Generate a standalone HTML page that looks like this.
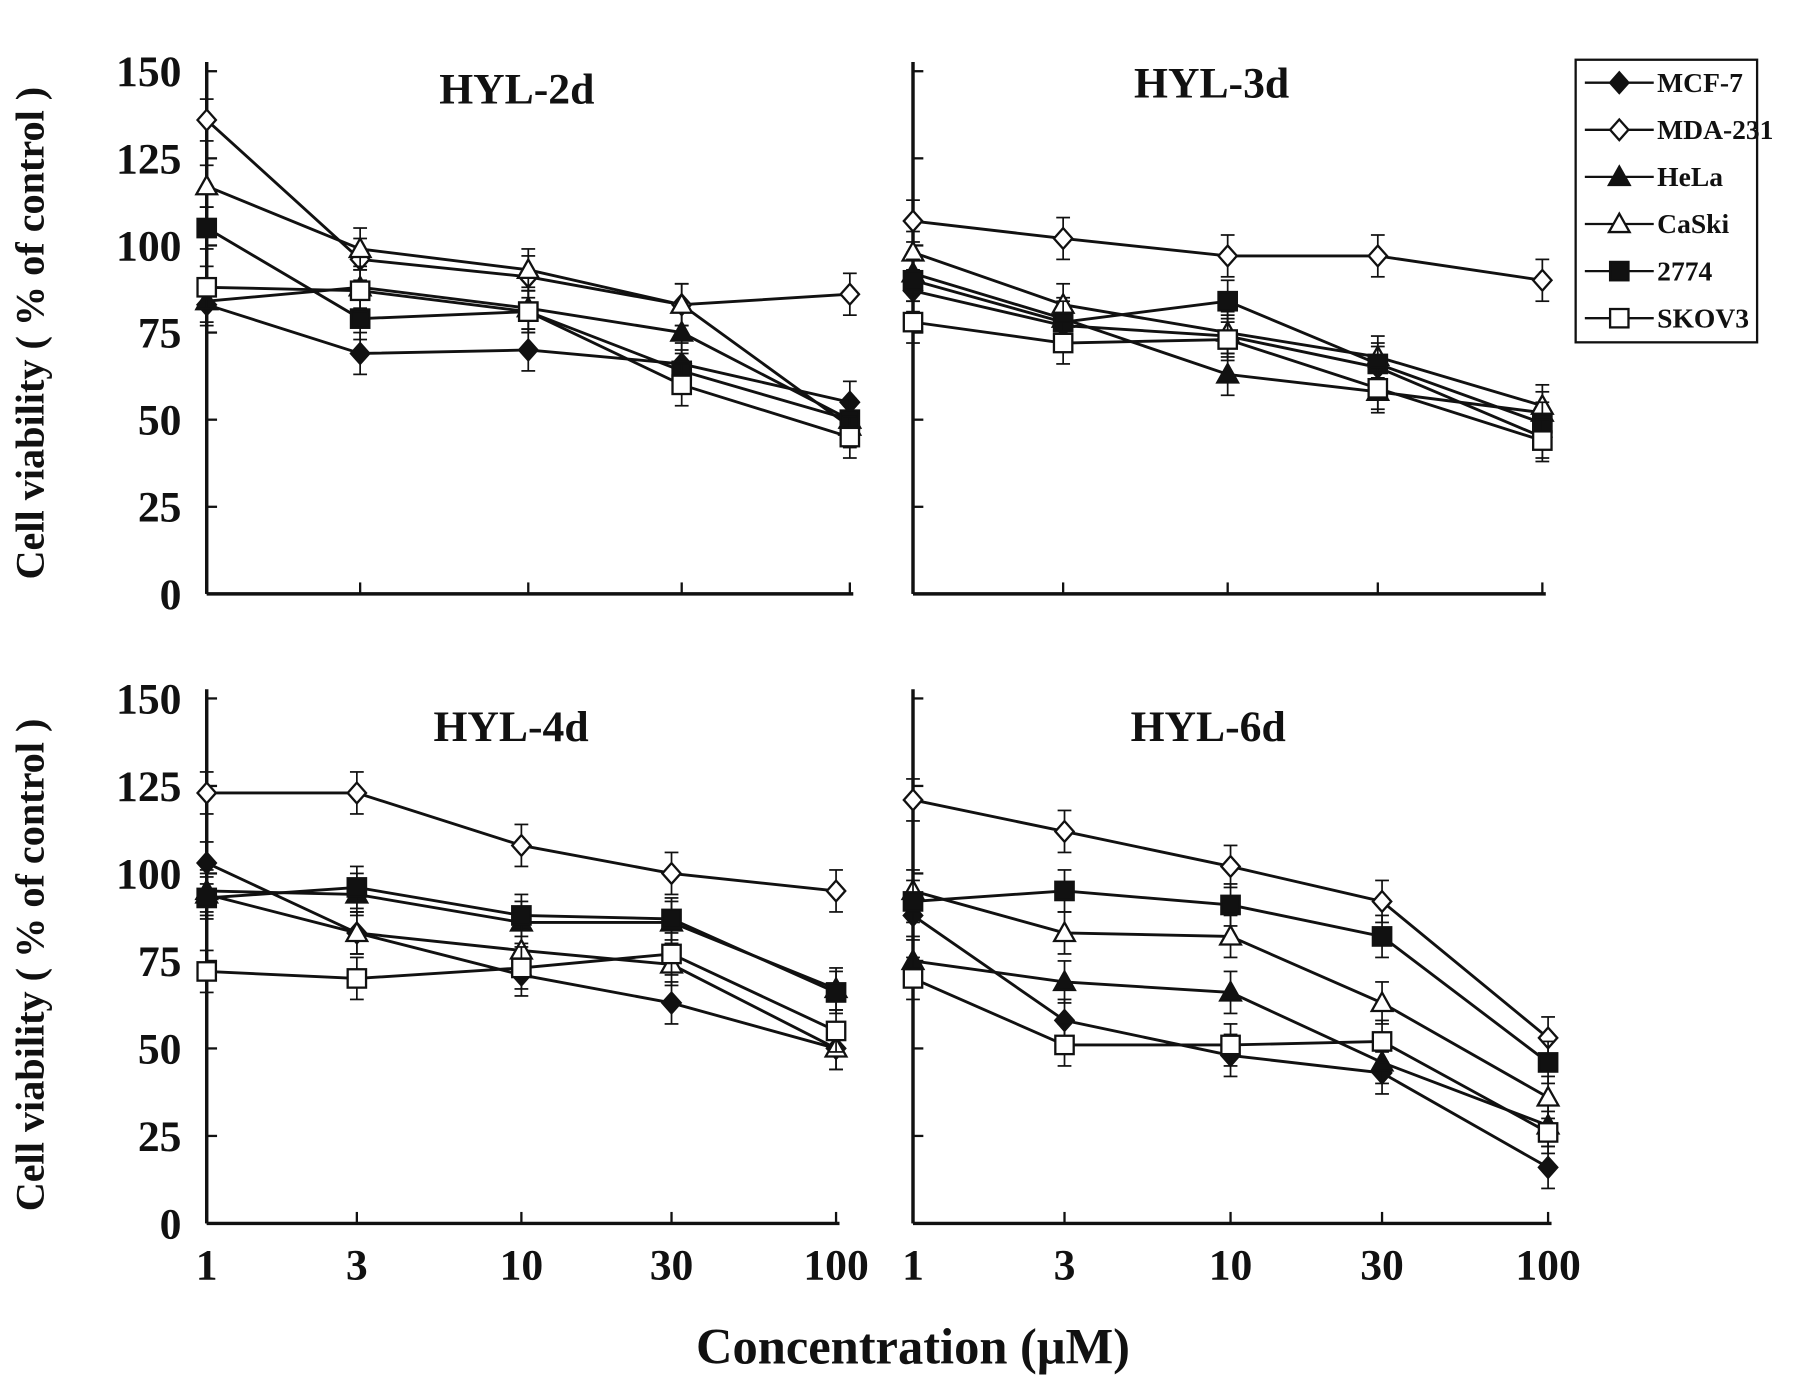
<!DOCTYPE html>
<html><head><meta charset="utf-8"><style>
html,body{margin:0;padding:0;background:#fff}
svg{display:block}
text{font-family:"Liberation Serif",serif;font-weight:bold;fill:#111}
</style></head><body>
<svg id="chart" width="1795" height="1390" viewBox="0 0 1563 1210" preserveAspectRatio="none" xmlns="http://www.w3.org/2000/svg">
<text x="795" y="1187" font-size="44" text-anchor="middle">Concentration (μM)</text>
<text transform="translate(38,290) rotate(-90)" font-size="35" text-anchor="middle">Cell viability ( % of control )</text>
<text transform="translate(38,840) rotate(-90)" font-size="35" text-anchor="middle">Cell viability ( % of control )</text>
<g id="plots"></g>
<g id="legend"></g>
</svg>
<script>
const concentrations=[1,3,10,30,100];
const xTickLabels=["1","3","10","30","100"];
const yTicks=[0,25,50,75,100,125,150];
const seriesNames=["MCF-7","MDA-231","HeLa","CaSki","2774","SKOV3"];
const panelTitles=["HYL-2d","HYL-3d","HYL-4d","HYL-6d"];
const hyl2d=[[83,69,70,66,55],[136,96,91,83,86],[84,88,82,75,50],[117,99,93,83,48],[105,79,81,64,50],[88,87,81,60,45]];
const hyl3d=[[87,77,74,65,45],[107,102,97,97,90],[92,79,63,58,52],[98,83,75,68,54],[90,78,84,66,49],[78,72,73,59,44]];
const hyl4d=[[103,83,71,63,50],[123,123,108,100,95],[95,94,86,86,67],[94,83,78,74,50],[93,96,88,87,66],[72,70,73,77,55]];
const hyl6d=[[88,58,48,43,16],[121,112,102,92,53],[75,69,66,46,28],[95,83,82,63,36],[92,95,91,82,46],[70,51,51,52,26]];
const errors=[6,6,6,6,6];
const panelData=[hyl2d,hyl3d,hyl4d,hyl6d];
const NS="http://www.w3.org/2000/svg";
const panels=[{x0:180,x1:740,y0:517,y1:62,lab:false,ty:90,tx:450},{x0:795,x1:1343,y0:517,y1:62,lab:false,ty:85,tx:1055},{x0:180,x1:728,y0:1065,y1:608,lab:true,ty:645,tx:445},{x0:795,x1:1348,y0:1065,y1:608,lab:true,ty:645,tx:1052}];
function el(t,a,p){const e=document.createElementNS(NS,t);for(const k in a)e.setAttribute(k,a[k]);p.appendChild(e);return e;}
function marker(g,i,cx,cy){const s=8;const fill=(i%2===0)?"#111":"#fff";let m;
 if(i<2)m=el("polygon",{points:`${cx},${cy-s-1} ${cx+s},${cy} ${cx},${cy+s+1} ${cx-s},${cy}`,fill,stroke:"#111","stroke-width":2},g);
 else if(i<4)m=el("polygon",{points:`${cx},${cy-s-1} ${cx+s+1},${cy+s-1} ${cx-s-1},${cy+s-1}`,fill,stroke:"#111","stroke-width":2},g);
 else m=el("rect",{x:cx-s,y:cy-s,width:2*s,height:2*s,fill,stroke:"#111","stroke-width":2},g);
 return m;}
const root=document.getElementById("plots");
panels.forEach((p,pi)=>{
 const g=el("g",{},root);
 
 
 const xs=c=>p.x0+(p.x1-p.x0)*Math.log10(c)/2;
 const ys=v=>p.y0+(p.y1-p.y0)*v/150;
 el("line",{x1:p.x0,y1:p.y0,x2:p.x0,y2:p.y1-8,stroke:"#111","stroke-width":3},g);
 el("line",{x1:p.x0,y1:p.y0,x2:p.x1+3,y2:p.y0,stroke:"#111","stroke-width":3},g);
 yTicks.forEach(v=>{el("line",{x1:p.x0,y1:ys(v),x2:p.x0+9,y2:ys(v),stroke:"#111","stroke-width":2},g);
  if(pi%2===0){const t=el("text",{x:p.x0-22,y:ys(v)+13,"font-size":38,"text-anchor":"end"},g);t.textContent=v;}});
 concentrations.forEach((c,ci)=>{el("line",{x1:xs(c),y1:p.y0,x2:xs(c),y2:p.y0-10,stroke:"#111","stroke-width":2},g);
  if(p.lab){const t=el("text",{x:xs(c),y:1114,"font-size":38,"text-anchor":"middle"},g);t.textContent=xTickLabels[ci];}});
 const tt=el("text",{x:p.tx,y:p.ty,"font-size":38,"text-anchor":"middle"},g);tt.textContent=panelTitles[pi];
 
 
 panelData[pi].forEach((vals,si)=>{
  const sg=el("g",{},g);
  
  
  el("polyline",{points:vals.map((v,k)=>xs(concentrations[k])+","+ys(v)).join(" "),fill:"none",stroke:"#111","stroke-width":2.5},sg);
  vals.forEach((v,k)=>{const x=xs(concentrations[k]);
   el("line",{x1:x,y1:ys(v-errors[k]),x2:x,y2:ys(v+errors[k]),stroke:"#111","stroke-width":1.5},sg);
   el("line",{x1:x-6,y1:ys(v+errors[k]),x2:x+6,y2:ys(v+errors[k]),stroke:"#111","stroke-width":1.5},sg);
   el("line",{x1:x-6,y1:ys(v-errors[k]),x2:x+6,y2:ys(v-errors[k]),stroke:"#111","stroke-width":1.5},sg);
   const m=marker(sg,si,x,ys(v));
   
   });
 });
});
const lg=document.getElementById("legend");
el("rect",{x:1372,y:52,width:158,height:246,fill:"#fff",stroke:"#111","stroke-width":2},lg);
seriesNames.forEach((n,i)=>{const y=72+i*41;
 const eg=el("g",{},lg);
 
 
 el("line",{x1:1380,y1:y,x2:1440,y2:y,stroke:"#111","stroke-width":2},eg);
 marker(eg,i,1410,y);
 const t=el("text",{x:1443,y:y+8,"font-size":24},eg);t.textContent=n;});
</script>
</body></html>
